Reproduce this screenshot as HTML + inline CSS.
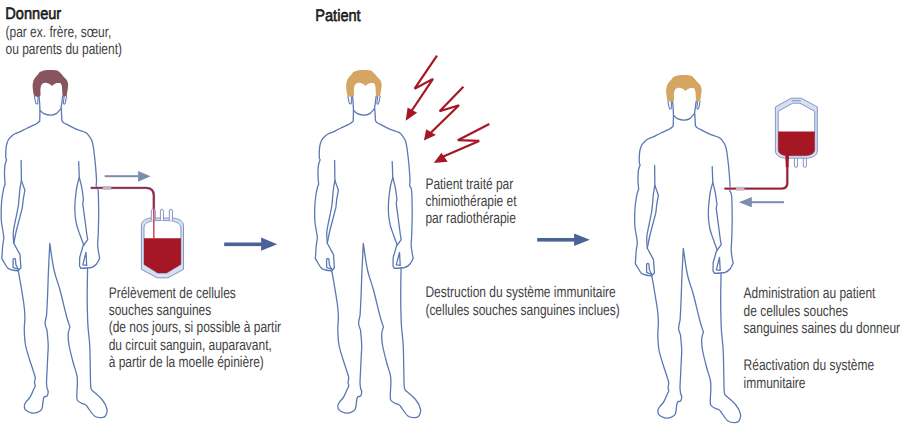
<!DOCTYPE html>
<html><head><meta charset="utf-8">
<style>
html,body{margin:0;padding:0;background:#fff;width:900px;height:436px;overflow:hidden}
svg{display:block}
text{font-family:"Liberation Sans",sans-serif;text-rendering:geometricPrecision}
.t{font-size:15.4px;fill:#424242}
.b{font-size:16.6px;font-weight:normal;fill:#1a1a1a;stroke:#1a1a1a;stroke-width:0.6}
.ol{fill:none;stroke:#5a78b3;stroke-width:1.3;stroke-linejoin:round;stroke-linecap:round}
.ol2{fill:none;stroke:#5a78b3;stroke-width:1.05;stroke-linecap:round}
</style></head><body>
<svg width="900" height="436" viewBox="0 0 900 436">
<defs>
<g id="body">
<path class="ol" d="M353.5,110.6 L353.2,121.3 L353.2,121.3 C352.8,121.7 351.2,122.9 350.5,123.4 C349.8,123.9 350.3,123.6 348.7,124.4 C347.1,125.2 343.6,126.8 341.0,128.0 C338.4,129.2 335.3,130.8 333.2,131.8 C331.1,132.8 329.8,133.1 328.5,133.8 C327.2,134.5 326.4,135.0 325.3,136.0 C324.2,137.0 322.7,138.5 321.8,140.0 C320.9,141.5 320.4,143.3 320.0,145.0 C319.6,146.7 319.5,147.9 319.4,150.0 C319.3,152.1 319.2,155.9 319.3,157.5 C319.4,159.1 320.0,159.4 320.1,159.8 L320.1,159.8 C319.8,160.7 318.9,163.0 318.5,165.0 C318.1,167.0 318.1,169.7 318.0,172.0 C317.9,174.3 318.1,177.0 318.2,179.0 C318.3,181.0 318.6,183.3 318.7,184.2 L318.7,184.2 C318.5,184.8 317.8,186.0 317.3,188.0 C316.8,190.0 316.2,193.2 315.8,196.0 C315.4,198.8 315.1,201.0 314.9,205.0 C314.7,209.0 314.6,215.8 314.8,220.0 C315.0,224.2 315.8,227.5 316.2,230.0 C316.6,232.5 316.9,234.2 317.0,235.0 L317.0,235.0 C317.1,235.5 317.4,236.2 317.3,238.0 C317.2,239.8 316.4,243.7 316.2,246.0 C315.9,248.3 315.9,249.9 315.8,252.0 C315.7,254.1 315.4,257.4 315.3,258.5 L315.3,258.5 C315.8,259.2 317.0,261.4 318.0,263.0 C319.0,264.6 320.2,267.1 321.5,268.3 C322.8,269.5 324.3,269.6 326.0,270.0 C327.7,270.4 330.8,270.7 331.8,270.8 L331.8,270.8 C332.2,273.2 333.4,279.4 334.3,285.0 C335.2,290.6 336.7,299.2 337.4,304.5 C338.1,309.8 338.3,312.8 338.4,317.0 C338.5,321.2 337.7,325.3 337.8,330.0 C337.9,334.7 338.1,340.0 339.0,345.0 C339.9,350.0 341.9,355.6 343.1,359.8 C344.4,364.0 345.6,367.0 346.5,370.0 C347.4,373.0 348.4,375.5 348.7,377.6 C348.9,379.7 348.0,381.2 348.0,382.6 C348.0,384.0 348.9,384.5 348.7,385.8 C348.5,387.1 347.6,388.3 346.8,390.2 C346.0,392.1 344.8,395.1 343.6,397.1 C342.4,399.1 340.4,400.7 339.5,402.0 C338.6,403.3 338.1,403.8 338.0,405.0 C337.9,406.2 337.5,408.1 338.6,409.4 C339.7,410.7 342.6,412.4 344.8,412.9 C347.0,413.4 349.8,412.9 351.6,412.2 C353.4,411.5 354.5,411.0 355.4,408.8 C356.3,406.6 356.4,401.1 356.9,399.0 C357.3,396.9 357.9,396.9 358.1,396.5 L358.1,396.5 C358.5,396.4 360.1,396.8 360.7,395.9 C361.3,395.0 361.7,392.6 361.7,391.4 C361.7,390.2 361.0,390.4 360.7,388.9 C360.4,387.4 360.0,385.8 360.0,382.6 C360.0,379.5 360.4,374.6 360.6,370.0 C360.8,365.4 361.1,359.2 361.3,355.0 C361.5,350.8 361.8,349.2 361.7,345.0 C361.6,340.8 360.7,332.5 360.5,330.0 L360.5,330.0 C360.2,328.9 358.7,326.0 358.6,323.5 C358.5,321.0 359.9,316.4 360.1,315.0 L360.1,315.0 C360.3,311.7 360.8,302.5 361.1,295.0 C361.4,287.5 361.6,278.6 362.0,270.0 C362.4,261.4 363.1,247.8 363.3,243.3 L363.3,243.3 C364.0,247.8 365.8,262.2 367.5,270.0 C369.2,277.8 371.5,282.5 373.5,290.0 C375.5,297.5 378.1,308.8 379.7,315.0 C381.3,321.2 382.8,325.0 383.4,327.0 L383.4,327.0 C383.1,328.2 381.8,331.4 381.7,334.4 C381.6,337.4 381.7,340.4 382.5,345.0 C383.3,349.6 385.2,357.0 386.5,362.0 C387.8,367.0 389.6,371.6 390.3,375.0 C391.0,378.4 390.9,379.2 390.9,382.6 C390.9,386.0 390.3,392.2 390.3,395.2 C390.3,398.1 390.1,398.9 390.9,400.3 C391.7,401.7 393.9,402.7 395.3,403.4 C396.7,404.1 398.1,404.0 399.1,404.7 C400.2,405.4 400.1,405.9 401.6,407.8 C403.1,409.7 405.7,414.4 407.9,416.0 C410.1,417.6 413.1,417.7 415.0,417.6 C416.9,417.5 418.3,417.1 419.2,415.6 C420.1,414.1 421.0,411.5 420.4,408.8 C419.8,406.1 418.0,402.6 415.5,399.5 C413.0,396.4 407.1,391.8 405.4,390.2 L405.4,390.2 C405.2,389.6 404.5,389.8 404.2,386.4 C403.9,383.0 404.0,376.9 403.8,370.0 C403.6,363.1 403.6,352.0 403.2,345.0 C402.8,338.0 402.0,333.0 401.6,328.0 C401.2,323.0 401.1,320.0 401.0,315.0 C400.9,310.0 400.7,305.9 400.7,298.0 C400.7,290.1 401.0,272.7 401.1,267.6"/>
<path class="ol" d="M394.5,268.4 C395.4,268.3 398.2,268.2 400.0,268.0 C401.8,267.8 403.5,268.1 405.2,267.4 C406.9,266.7 408.7,265.6 410.0,264.0 C411.3,262.4 412.7,259.1 413.2,258.1 L413.2,258.1 C413.0,257.1 412.3,254.2 412.0,252.0 C411.7,249.8 411.2,247.8 411.2,245.0 C411.1,242.2 411.5,240.0 411.7,235.0 C411.9,230.0 412.1,220.8 412.2,215.0 C412.2,209.2 412.1,204.2 412.0,200.0 C411.9,195.8 411.9,192.4 411.5,190.0 C411.1,187.6 409.9,186.2 409.6,185.5 L409.6,185.5 C409.7,184.6 410.1,182.9 410.0,180.0 C409.9,177.1 409.5,172.0 409.2,168.0 C408.9,164.0 408.4,159.3 408.0,156.0 C407.6,152.7 407.4,150.5 407.0,148.0 C406.6,145.5 406.2,143.0 405.5,141.0 C404.8,139.0 403.6,137.2 402.5,135.8 C401.4,134.4 400.9,133.5 398.8,132.4 C396.7,131.3 392.9,130.6 389.7,129.2 C386.5,127.8 382.1,125.3 379.9,124.2 C377.7,123.1 377.2,123.0 376.5,122.3 C375.8,121.6 375.6,120.6 375.4,120.3 L375.4,120.3 L374.8,109.0"/>
<path class="ol" d="M334.6,160.3 L334.9,180.5 L334.9,180.5 C335.5,182.1 337.8,188.6 338.4,190.2 L338.4,190.2 L336.7,199.7 L335.9,207.4 L329.5,232.0 L327.3,243.2 L333.5,254.6 L334.4,267.8 L331.8,270.8"/>
<path class="ol" d="M334.9,180.5 C334.6,182.1 333.8,185.9 333.3,190.0 C332.8,194.1 332.6,200.0 331.9,205.0 C331.2,210.0 329.9,215.5 329.0,220.0 C328.1,224.5 327.1,228.1 326.8,232.0 C326.5,235.9 327.2,241.3 327.3,243.2"/>
<path class="ol" d="M331.8,269.5 L326.6,267.3 L326.6,259.2 L326.6,259.2 C326.8,259.1 327.3,258.3 327.7,258.3 C328.1,258.3 328.7,258.9 328.9,259.0 L328.9,259.0 L329.4,264.8 L331.8,269.5"/>
<path class="ol" d="M392.2,161.6 L392.8,177.5 L392.8,177.5 C393.2,179.2 394.6,183.9 395.3,187.6 C396.0,191.3 396.7,197.7 397.0,199.7 L397.0,199.7 L396.2,203.2 L400.4,235.0 L401.2,239.7 L396.5,246.0 L393.2,257.5 L393.0,266.0 L394.5,268.4"/>
<path class="ol" d="M392.8,177.5 C392.4,178.9 391.1,183.2 390.5,186.0 C389.9,188.8 389.7,191.3 389.3,194.5 C388.9,197.7 388.5,201.6 388.4,205.0 C388.3,208.4 388.3,211.7 388.6,215.0 C388.9,218.3 389.5,222.1 390.2,225.0 C390.9,227.9 391.4,229.1 392.6,232.4 C393.8,235.7 396.4,242.9 397.2,245.0"/>
<path class="ol" d="M400.2,265.4 L396.3,264.8 L399.5,252.3 L400.2,265.4"/>
<path class="ol" d="M352.6,96.2 L353.2,104.0 L353.5,110.6 L353.5,110.6 C354.2,111.1 355.8,112.9 357.5,113.7 C359.2,114.5 361.9,115.2 364.0,115.2 C366.1,115.2 368.1,114.7 369.8,113.6 C371.5,112.5 373.6,109.6 374.4,108.8 L374.4,108.8 L375.3,103.0 L376.2,96.2"/>
<path class="ol2" d="M347.9,96.2 C348.0,96.8 348.4,98.8 348.6,100.0 C348.9,101.2 349.1,102.5 349.4,103.2 C349.7,103.9 350.2,104.0 350.5,104.0 C350.8,104.0 351.2,104.0 351.3,103.2 C351.4,102.4 351.4,100.2 351.4,99.0 C351.4,97.8 351.4,96.7 351.4,96.2"/>
<path class="ol2" d="M380.1,96.2 C380.0,96.8 379.6,98.8 379.4,100.0 C379.1,101.2 378.9,102.7 378.6,103.4 C378.3,104.1 377.7,104.2 377.4,104.1 C377.1,103.9 376.9,103.3 376.9,102.5 C376.9,101.7 377.3,100.0 377.4,99.0 C377.5,98.0 377.6,96.7 377.6,96.2"/>
<path style="fill:var(--hair)" d="M354.7,71.5 C355.6,71.2 357.1,70.6 358.6,70.3 C360.2,70.0 362.2,69.9 364.0,69.9 C365.8,69.9 368.1,70.0 369.5,70.3 C370.9,70.5 371.6,70.9 372.4,71.4 C373.2,71.9 373.6,72.6 374.4,73.5 C375.2,74.4 376.3,75.8 377.3,76.9 C378.3,78.0 379.5,78.8 380.2,80.0 C380.9,81.2 381.4,82.5 381.6,83.9 C381.8,85.3 381.5,87.1 381.3,88.6 C381.1,90.1 380.9,91.7 380.6,92.9 C380.4,94.2 380.5,95.5 379.8,96.1 C379.1,96.6 377.2,96.8 376.5,96.2 C375.8,95.6 376.0,94.1 375.8,92.5 C375.6,90.9 375.7,88.0 375.4,86.5 C375.1,85.0 374.8,84.2 374.2,83.6 C373.6,83.0 372.6,83.1 371.8,83.1 C371.0,83.1 369.9,83.2 369.1,83.5 C368.3,83.8 367.8,84.2 367.2,84.6 C366.6,85.0 366.1,85.8 365.6,85.8 C365.1,85.8 364.6,85.1 364.0,84.7 C363.4,84.3 363.0,83.8 362.1,83.5 C361.2,83.2 359.6,82.8 358.6,82.8 C357.6,82.8 357.0,83.0 356.3,83.4 C355.6,83.8 355.1,84.4 354.7,85.4 C354.3,86.4 354.1,87.6 353.9,89.4 C353.7,91.2 354.6,95.0 353.6,96.1 C352.6,97.2 349.3,97.0 348.1,96.1 C346.9,95.2 346.9,92.7 346.6,90.9 C346.3,89.1 346.0,87.3 346.1,85.5 C346.2,83.7 346.7,81.4 347.2,80.0 C347.7,78.6 348.5,77.8 349.2,76.9 C349.9,76.0 350.9,75.4 351.5,74.6 C352.1,73.8 352.5,72.8 353.0,72.3 C353.5,71.8 353.8,71.8 354.7,71.5 Z"/>
</g>
</defs>

<!-- figures -->
<g style="--hair:#88545e" transform="translate(-313.5,0)"><use href="#body"/></g>
<g style="--hair:#d5a563"><use href="#body"/></g>
<g style="--hair:#d5a563" transform="translate(320,5)"><use href="#body"/></g>

<!-- texts -->
<g transform="translate(5.3,19.2) scale(0.878,1)"><text class="b" x="0" y="0">Donneur</text></g>
<g transform="translate(5.5,0) scale(0.778,1)">
<text class="t" x="0" y="36.5">(par ex. frère, sœur,</text>
<text class="t" x="0" y="53.7">ou parents du patient)</text>
</g>
<g transform="translate(315.3,21.2) scale(0.878,1)"><text class="b" x="0" y="0">Patient</text></g>

<g transform="translate(108.7,0) scale(0.778,1)">
<text class="t" x="0" y="297.9">Prélèvement de cellules</text>
<text class="t" x="0" y="315.1">souches sanguines</text>
<text class="t" x="0" y="332.3">(de nos jours, si possible à partir</text>
<text class="t" x="0" y="349.5">du circuit sanguin, auparavant,</text>
<text class="t" x="0" y="366.7">à partir de la moelle épinière)</text>
</g>
<g transform="translate(425.4,0) scale(0.778,1)">
<text class="t" x="0" y="188.5">Patient traité par</text>
<text class="t" x="0" y="205.7">chimiothérapie et</text>
<text class="t" x="0" y="222.9">par radiothérapie</text>
<text class="t" x="0" y="297.4">Destruction du système immunitaire</text>
<text class="t" x="0" y="314.6">(cellules souches sanguines inclues)</text>
</g>
<g transform="translate(743.6,0) scale(0.778,1)">
<text class="t" x="0" y="298.4">Administration au patient</text>
<text class="t" x="0" y="315.6">de cellules souches</text>
<text class="t" x="0" y="332.8">sanguines saines du donneur</text>
<text class="t" x="0" y="370.3">Réactivation du système</text>
<text class="t" x="0" y="387.5">immunitaire</text>
</g>

<!-- big arrows -->
<g fill="#4a6396" stroke="none">
<rect x="224.2" y="242.5" width="38" height="3.6"/>
<polygon points="261.1,237.4 277.2,244.3 261.1,250.8"/>
<rect x="537.2" y="238" width="38" height="3.6"/>
<polygon points="574.1,233.5 589.8,239.8 574.1,246.1"/>
</g>
<!-- small arrows -->
<g fill="#7c8cae">
<rect x="104.6" y="175.2" width="34" height="2"/>
<polygon points="138.1,171.1 150.5,176.2 138.1,181.7"/>
<rect x="751" y="201.2" width="33" height="2"/>
<polygon points="751.8,197 738.9,202.2 751.8,207.2"/>
</g>

<!-- lightning bolts -->
<g fill="none" stroke="#a61725" stroke-width="2.2" stroke-linejoin="miter">
<polyline points="437,55.7 414.6,88.7 433,78.9 410.5,112.5"/>
<polyline points="463.4,86.7 439.6,111.3 459,105.3 430,133.5"/>
<polyline points="489.3,124.1 457.8,140.2 479.2,140.9 441,157.5"/>
</g>
<g fill="#a61725">
<polygon points="405.7,120.8 407.6,107.4 417.1,112.8"/>
<polygon points="423.9,140.4 426.2,129.2 435.9,135.1"/>
<polygon points="433.8,162.9 441.4,152.8 447.7,161.7"/>
</g>

<!-- donor tube & bag -->
<g>
<path d="M90.7,187.9 L146,187.9 Q153.8,187.9 153.8,195.5 L153.8,209.5" fill="none" stroke="#bcc5e0" stroke-width="2.9"/>
<path d="M90.7,187.9 L146,187.9 Q153.8,187.9 153.8,195.5 L153.8,209.5" fill="none" stroke="#982241" stroke-width="1.9"/>
<rect x="103.1" y="186.4" width="7.8" height="3" fill="#d9b0a8" stroke="#b3c0dc" stroke-width="0.8"/>
</g>
<g stroke="#8595c5" stroke-width="1">
<path d="M151.1,218 L172.4,218 C178,218.3 183.4,220.8 183.5,225.5 L183.5,269.4 L168,277.8 L157.2,277.8 L141.4,269.4 L141.4,225.5 C141.5,220.8 146,218.3 151.1,218 Z" fill="#d6def0"/>
<path d="M155,220.6 L169,220.6 C175,220.9 180.9,223.2 180.9,227.8 L180.9,264.4 L166.6,273.1 L157.6,273.1 L144,264.4 L144,227.8 C144.1,223.2 149,220.9 155,220.6 Z" fill="#fff"/>
<path d="M151.3,220.6 L151.3,211 Q151.3,209.2 153.3,209.2 Q155.3,209.2 155.3,211 L155.3,220.6" fill="#fff"/>
<path d="M160.4,220.6 L160.4,211 Q160.4,209.2 161.9,209.2 Q163.4,209.2 163.4,211 L163.4,220.6" fill="#fff"/>
<path d="M169.3,220.6 L169.3,211 Q169.3,209.2 170.85,209.2 Q172.4,209.2 172.4,211 L172.4,220.6" fill="#fff"/>
</g>
<path d="M144,238.2 L180.9,238.2 L180.9,264.4 L166.6,273.1 L157.6,273.1 L144,264.4 Z" fill="#a61725"/>
<path d="M157.6,275.6 L166.6,275.6" stroke="#e8edf7" stroke-width="0.8"/>
<path d="M153.8,209.5 L153.8,239" stroke="#cf4455" stroke-width="1.5"/>

<!-- recipient tube & bag -->
<g stroke="#8595c5" stroke-width="1">
<path d="M794.4,157 L794.4,166 Q794.4,167.3 795.9,167.3 Q797.4,167.3 797.4,166 L797.4,157" fill="#fff"/>
<path d="M803.3,157 L803.3,166 Q803.3,167.3 804.85,167.3 Q806.4,167.3 806.4,166 L806.4,157" fill="#fff"/>
<path d="M791.2,98.2 L801.3,98.2 L817.3,106.9 L817.3,151 C817.3,155.5 812,158.2 806,158.2 L786.5,158.2 C780.5,158.2 775.4,155.5 775.4,151 L775.4,106.9 Z" fill="#d6def0"/>
<path d="M792.7,103.2 L799.9,103.2 L814.7,111.3 L814.7,149.5 C814.7,153.5 810.5,155.7 805,155.7 L787.5,155.7 C782,155.7 778.2,153.5 778.2,149.5 L778.2,111.3 Z" fill="#fff"/>
<path d="M791.9,100.7 L800.9,100.7" fill="none"/>
</g>
<path d="M778.2,131.5 L814.7,131.5 L814.7,149.5 C814.7,153.5 810.5,155.7 805,155.7 L787.5,155.7 C782,155.7 778.2,153.5 778.2,149.5 Z" fill="#a61725"/>
<path d="M785.3,155 L789,155 L788.6,167.5 L785.8,167.5 Z" fill="#a61725"/>
<path d="M787.3,167 L787.3,183 Q787.3,188.6 781.5,188.6 L724.4,188.6" fill="none" stroke="#bcc5e0" stroke-width="2.9"/>
<path d="M787.3,165 L787.3,183 Q787.3,188.6 781.5,188.6 L724.4,188.6" fill="none" stroke="#a61725" stroke-width="1.9"/>
<rect x="736.3" y="187.2" width="7.7" height="3" fill="#d9b0a8" stroke="#b3c0dc" stroke-width="0.8"/>
</svg>
</body></html>
